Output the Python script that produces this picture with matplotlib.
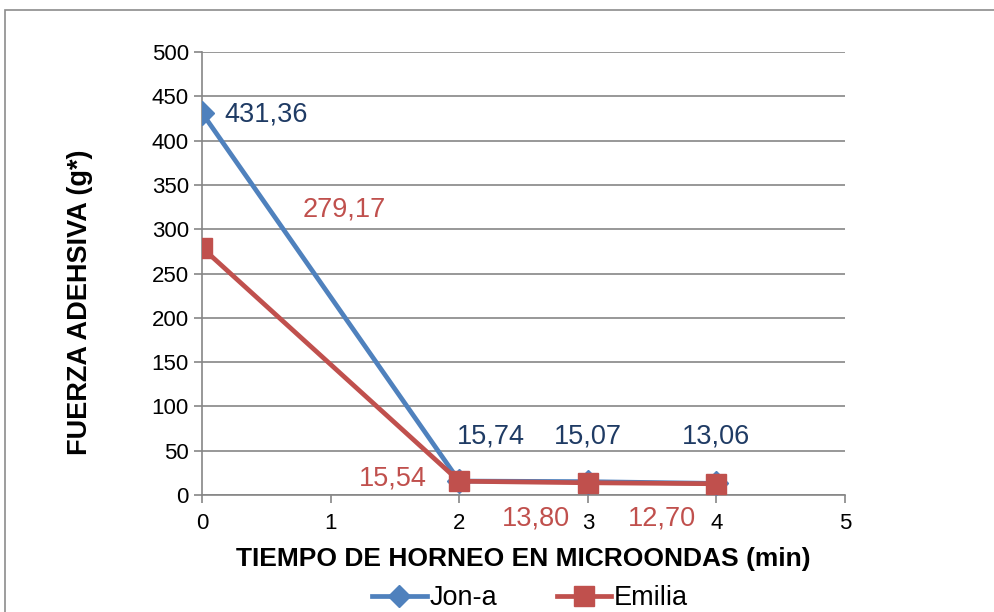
import matplotlib.pyplot as plt
from matplotlib.patches import Rectangle

plt.rcParams["font.family"] = ["Liberation Sans", "DejaVu Sans"]

# data
tiempo = [0, 2, 3, 4]
jon_a = [431.36, 15.74, 15.07, 13.06]
emilia = [279.17, 15.54, 13.80, 12.70]
jon_a_txt = ["431,36", "15,74", "15,07", "13,06"]
emilia_txt = ["279,17", "15,54", "13,80", "12,70"]

# where the value labels sit (data coords)
jon_a_lab = [(0.50, 429), (2.25, 66), (3.0, 66), (4.0, 66)]
emilia_lab = [(1.11, 322), (1.48, 19), (2.6, -26), (3.58, -26)]

blue = "#4F81BD"
red = "#C0504D"
navy = "#1F3B64"
grid_c = "#868686"

fig = plt.figure(figsize=(9.94, 6.12), dpi=100)
fig.patches.append(Rectangle((5/994, -0.1), 1.2, 1 - 10/612 + 0.1, transform=fig.transFigure,
                             fill=False, edgecolor="#8c8c8c", linewidth=1.2))
ax = fig.add_axes([202/994, 1 - 495/612, 643/994, 443/612])

ax.plot(tiempo, jon_a, color=blue, linewidth=3.4, marker="D", markersize=12, label="Jon-a", zorder=3)
ax.plot(tiempo, emilia, color=red, linewidth=3.4, marker="s", markersize=15, label="Emilia", zorder=4)

for (x, y), t in zip(jon_a_lab, jon_a_txt):
    ax.text(x, y, t, color=navy, fontsize=19.5, ha="center", va="center")
for (x, y), t in zip(emilia_lab, emilia_txt):
    ax.text(x, y, t, color=red, fontsize=19.5, ha="center", va="center", clip_on=False)

ax.set_xlim(0, 5)
ax.set_ylim(0, 500)
ax.set_xticks(range(0, 6))
ax.set_yticks(range(0, 501, 50))
ax.grid(axis="y", color=grid_c, linewidth=1.2)
ax.set_axisbelow(True)
for s in ["top", "right"]:
    ax.spines[s].set_visible(False)
for s in ["left", "bottom"]:
    ax.spines[s].set_color(grid_c)
    ax.spines[s].set_linewidth(1.2)
ax.tick_params(axis="both", colors=grid_c, labelcolor="black", labelsize=16, length=6, width=1.2)
ax.tick_params(axis="x", pad=7)

ax.set_xlabel("TIEMPO DE HORNEO EN MICROONDAS (min)", fontsize=19, fontweight="bold")
ax.set_ylabel("FUERZA ADEHSIVA (g*)", fontsize=19.5, fontweight="bold")
ax.xaxis.set_label_coords(0.5, (495 - 547) / 443)
ax.yaxis.set_label_coords((93 - 202) / 643, (495 - 302) / 443)

leg = fig.legend(loc="center", bbox_to_anchor=(530/994, 1 - 598/612), ncol=2, frameon=False,
                 fontsize=19.5, handlelength=2.0, columnspacing=2.2, handletextpad=0.1,
                 markerscale=0.95)

fig.savefig("out.png", dpi=100)
